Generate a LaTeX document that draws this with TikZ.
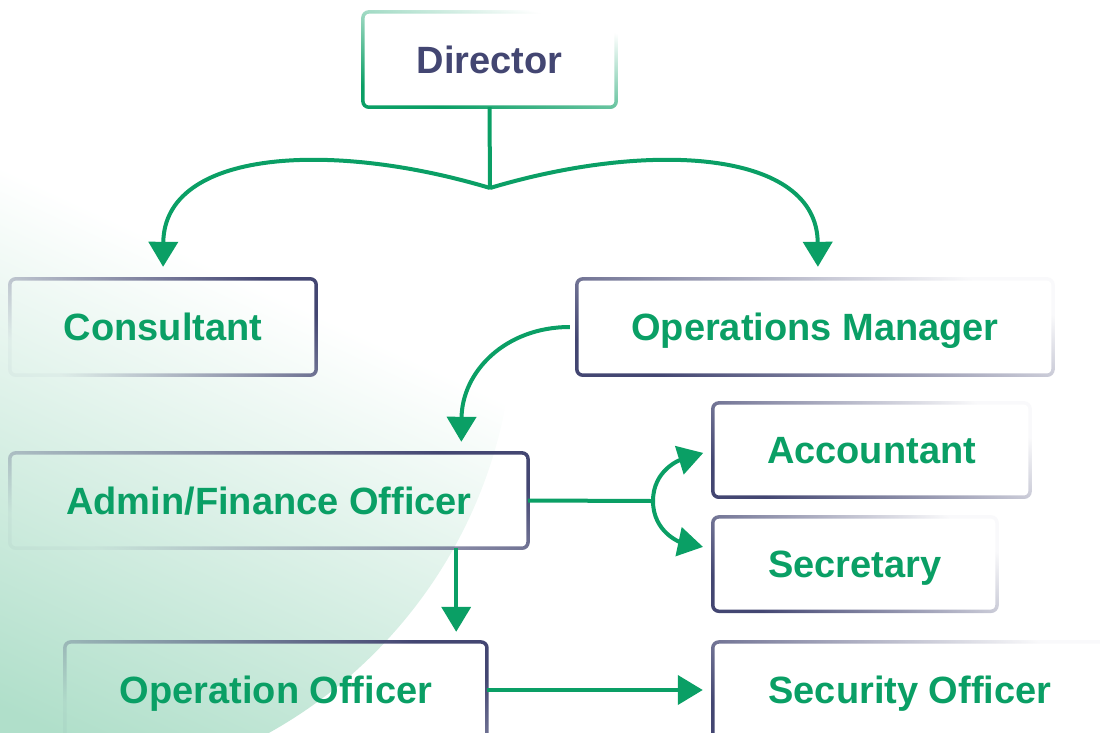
\documentclass[tikz,border=0pt]{standalone}
\usepackage{fontspec}
\setmainfont{Liberation Sans}
\usetikzlibrary{arrows.meta,calc,fadings}
\definecolor{grn}{HTML}{0A9F65}
\definecolor{nvy}{HTML}{434672}
\definecolor{bgg}{HTML}{B0DFCA}
\pgfdeclarelayer{bg}
\pgfdeclarelayer{fills}
\pgfsetlayers{bg,fills,main}
\pgfdeclareverticalshading{blobsh}{100bp}{color(0bp)=(bgg); color(45.5bp)=(bgg); color(73.5bp)=(white); color(100bp)=(white)}
\tikzfading[name=fadeinR, left color=transparent!96, middle color=transparent!55, right color=transparent!0]
\tikzfading[name=fadeoutR, left color=transparent!0, middle color=transparent!75, right color=transparent!97]
\tikzfading[name=dirfade, left color=transparent!0, middle color=transparent!55, right color=transparent!100]
\tikzset{
  box/.style={minimum width=#1, minimum height=96, inner sep=0pt,
    text height=27pt, text depth=0pt,
    font=\bfseries\fontsize{38}{38}\selectfont, text=grn},
  con/.style={draw=grn, line width=4pt},
  arr/.style={con, -{Triangle[length=25pt,width=29pt]}},
  bordin/.style={draw=nvy, line width=3.5pt, rounded corners=6pt, path fading=fadeinR, fading angle=25},
  bordout/.style={draw=nvy, line width=3.5pt, rounded corners=6pt, path fading=fadeoutR, fading angle=25},
}
\begin{document}
\begin{tikzpicture}[x=1pt,y=-1pt]
\useasboundingbox (0,0) rectangle (1100,732);
% nodes
\node[box=253, minimum height=95, text=nvy] (dir) at (489.5,59.5) {Director};
\node[box=306] (cons) at (163,327) {Consultant};
\node[box=476] (ops) at (815,327) {Operations Manager};
\node[box=518, minimum height=95] (adm) at (269,500.5) {Admin/Finance Officer};
\node[box=317, minimum height=94] (acc) at (871.5,450) {Accountant};
\node[box=284, minimum height=94] (sec) at (855,564) {Secretary};
\node[box=422] (opo) at (276,690) {Operation Officer};
\node[box=394] (secu) at (910,690) {Security Officer};
% background blob
\begin{pgfonlayer}{bg}
\begin{scope}
\clip (0,0) rectangle (1100,732);
\clip (37,316) circle (477pt);
\begin{scope}[x=1pt,y=1pt,transform canvas={rotate=-25}]
\fill[bgg] (-200,-2000) rectangle (856,-1000);
\shade[shading=blobsh] (-20,-1000) rectangle (856,-124);
\end{scope}
\end{scope}
\end{pgfonlayer}
\begin{pgfonlayer}{fills}
\fill[white, rounded corners=6pt] (dir.south west) rectangle (dir.north east);
\end{pgfonlayer}
% borders
\draw[draw=grn, line width=3.5pt, rounded corners=6pt, path fading=dirfade, fading angle=55] (dir.south west) rectangle (dir.north east);
\draw[bordin] (cons.south west) rectangle (cons.north east);
\draw[bordout] (ops.south west) rectangle (ops.north east);
\draw[bordin] (adm.south west) rectangle (adm.north east);
\draw[bordout] (acc.south west) rectangle (acc.north east);
\draw[bordout] (sec.south west) rectangle (sec.north east);
\draw[bordin] (opo.south west) rectangle (opo.north east);
\draw[bordout] (secu.south west) rectangle (secu.north east);
% connectors
\coordinate (J) at (490,188);
\coordinate (B) at (653,501);
\draw[con] (dir.south) -- (J);
\draw[arr, shorten >=12pt] (J) .. controls (330,140) and (164,150) .. (cons.north);
\draw[arr, shorten >=12pt] (J) .. controls (650,140) and (817,150) .. ([xshift=3pt]ops.north);
\draw[arr, shorten <=7pt, shorten >=11pt] (ops.west) .. controls (505,327) and (462,372) .. ($(adm.north east)+(-67,0)$);
\draw[con] (adm.east) -- (B);
\draw[arr, shorten >=10pt] (B) .. controls (653,470) and (680,460) .. (acc.west);
\draw[arr, shorten >=10pt] (B) .. controls (653,532) and (680,542) .. ($(sec.west)+(0,-15)$);
\draw[arr, shorten >=10pt] ($(adm.south east)+(-72,0)$) -- ($(opo.north east)+(-31,0)$);
\draw[arr, shorten >=10pt] (opo.east) -- (secu.west);
\end{tikzpicture}
\end{document}
